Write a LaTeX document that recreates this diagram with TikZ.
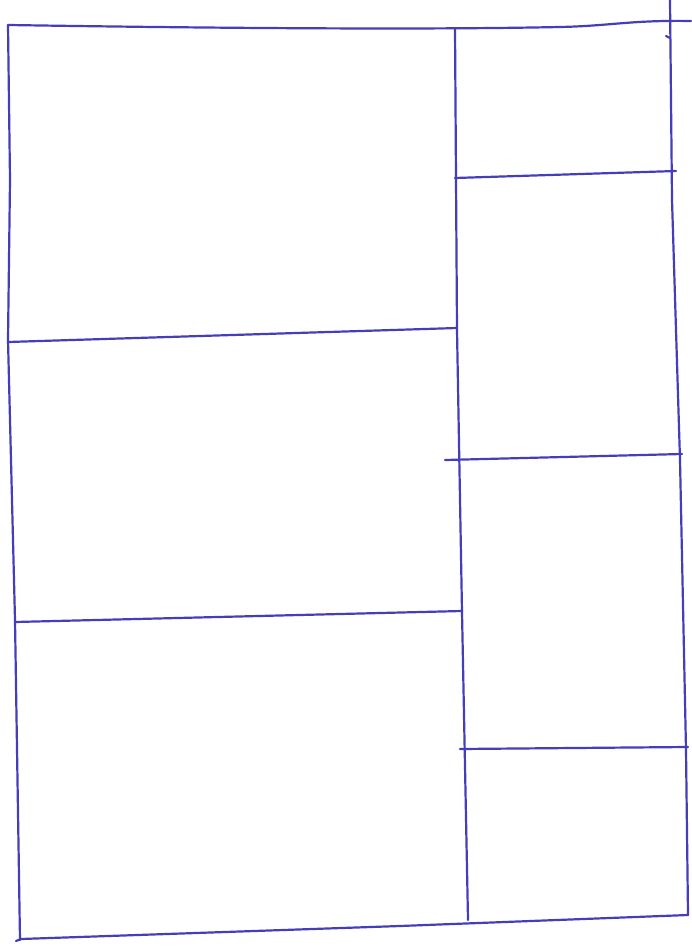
\documentclass[tikz,border=0pt]{standalone}
\definecolor{pen}{RGB}{70,62,185}
\begin{document}
\begin{tikzpicture}[x=1pt,y=-1pt,pen/.style={draw=pen,line width=2.2pt,line cap=round,line join=round}]
\useasboundingbox[fill=white] (0,0) rectangle (691,949);
% outer frame
\draw[pen] (8,25) .. controls (200,28) and (420,30) .. (560,27) .. controls (610,26) and (630,20) .. (691,21);
\draw[pen] (8,25) -- (10,180) -- (8,340) -- (15,620) -- (20,940);
\draw[pen] (16,941) -- (21,939) -- (400,926) -- (688,915);
\draw[pen] (670,0) -- (672,200) -- (680,460) -- (686,750) -- (688,915);
\draw[pen] (666,36) -- (670,38);
% middle vertical
\draw[pen] (455,28) -- (457,330) -- (462,612) -- (468,920);
% left horizontals
\draw[pen] (8,342) -- (457,328);
\draw[pen] (15,622) -- (462,611);
% right horizontals
\draw[pen] (455,178) -- (676,171);
\draw[pen] (445,460) -- (682,454);
\draw[pen] (460,749) -- (688,747);
\end{tikzpicture}
\end{document}
